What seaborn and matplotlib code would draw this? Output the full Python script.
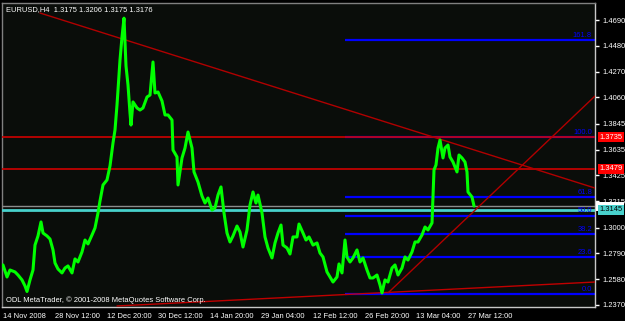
import matplotlib
matplotlib.use("Agg")
import matplotlib.pyplot as plt
import matplotlib.transforms as mtransforms
from matplotlib.patches import Rectangle
from matplotlib import font_manager as fm
import seaborn as sns
import pandas as pd

# ---------------- data ----------------
bar_x = [3, 7, 10, 15, 18, 22, 25, 27, 30, 33,
         35, 38, 41, 43, 47, 50, 53, 55, 58, 62,
         65, 68, 72, 75, 78, 82, 85, 88, 92, 95,
         98, 100, 103, 107, 110, 113, 115, 117, 118, 120,
         122, 124, 126, 128, 130, 131, 133, 137, 140, 143,
         147, 150, 153, 155, 158, 162, 165, 168, 172, 173,
         177, 178, 182, 185, 188, 192, 194, 198, 202, 205,
         208, 212, 215, 218, 221, 224, 227, 230, 233, 237,
         240, 243, 247, 250, 253, 256, 258, 262, 265, 268,
         272, 275, 278, 281, 283, 287, 290, 293, 297, 299,
         303, 306, 309, 313, 317, 320, 323, 327, 330, 333,
         337, 339, 342, 345, 347, 350, 353, 357, 360, 363,
         367, 370, 373, 377, 380, 382, 385, 388, 392, 395,
         398, 402, 405, 408, 412, 415, 418, 422, 425, 428,
         432, 434, 436, 438, 440, 443, 445, 448, 450, 453,
         457, 459, 462, 465, 467, 468, 472, 474]
close = [1.2696, 1.2598, 1.2655, 1.2639, 1.2614, 1.2574, 1.2525, 1.2480, 1.2574, 1.2655,
         1.2858, 1.2932, 1.3046, 1.2956, 1.2932, 1.2907, 1.2818, 1.2712, 1.2663, 1.2631,
         1.2671, 1.2688, 1.2631, 1.2745, 1.2720, 1.2802, 1.2899, 1.2867, 1.2940, 1.2997,
         1.3119, 1.3217, 1.3347, 1.3388, 1.3502, 1.3689, 1.3795, 1.3998, 1.4120, 1.4364,
         1.4552, 1.4705, 1.4316, 1.4161, 1.3933, 1.3835, 1.4023, 1.3974, 1.3957, 1.3974,
         1.4063, 1.4079, 1.4348, 1.4096, 1.4104, 1.4031, 1.3917, 1.3917, 1.3876, 1.3632,
         1.3575, 1.3347, 1.3567, 1.3648, 1.3778, 1.3648, 1.3453, 1.3371, 1.3257, 1.3200,
         1.3241, 1.3143, 1.3160, 1.3265, 1.3331, 1.3119, 1.2956, 1.2883, 1.2932, 1.3013,
         1.2964, 1.2842, 1.2981, 1.3184, 1.3290, 1.3200, 1.3265, 1.3119, 1.2924, 1.2834,
         1.2753, 1.2875, 1.2956, 1.3021, 1.2858, 1.2834, 1.2785, 1.2924, 1.2924, 1.3029,
         1.2956, 1.2899, 1.2924, 1.2858, 1.2875, 1.2793, 1.2761, 1.2639, 1.2598, 1.2557,
         1.2598, 1.2704, 1.2631, 1.2899, 1.2761, 1.2720, 1.2753, 1.2818, 1.2720, 1.2753,
         1.2655, 1.2590, 1.2590, 1.2614, 1.2533, 1.2468, 1.2574, 1.2557, 1.2671, 1.2696,
         1.2614, 1.2671, 1.2761, 1.2736, 1.2802, 1.2883, 1.2883, 1.2940, 1.3005, 1.2981,
         1.3038, 1.3469, 1.3510, 1.3648, 1.3713, 1.3567, 1.3648, 1.3672, 1.3575, 1.3534,
         1.3453, 1.3591, 1.3567, 1.3534, 1.3453, 1.3290, 1.3249, 1.3176]
assert len(bar_x) == len(close)

x_tick_pos = [3, 55, 107, 158, 210, 261, 313, 365, 416, 468]
x_tick_labels = ["14 Nov 2008", "28 Nov 12:00", "12 Dec 20:00", "30 Dec 12:00",
                 "14 Jan 20:00", "29 Jan 04:00", "12 Feb 12:00", "26 Feb 20:00",
                 "13 Mar 04:00", "27 Mar 12:00"]
y_tick_labels = ["1.4690", "1.4480", "1.4270", "1.4060", "1.3845", "1.3635",
                 "1.3425", "1.3215", "1.3000", "1.2790", "1.2580", "1.2370"]

# trendline anchors (bar position, price)
trend_down_x = [40, 595]
trend_down_p = [1.4747, 1.3322]
trend_low_x = [117, 595]
trend_low_p = [1.2362, 1.2557]
trend_up_x = [388, 595]
trend_up_p = [1.2468, 1.4071]

hlines_red = [1.3735, 1.3479]
bid_price = 1.3176
cyan_price = 1.3145

fib_start = 345
fib_levels = [0.0, 23.6, 38.2, 50.0, 61.8, 100.0, 161.8]
fib_low = 1.2459
fib_high = 1.3735

title_text = "EURUSD,H4  1.3175 1.3206 1.3175 1.3176"
copyright_text = "ODL MetaTrader, \u00a9 2001-2008 MetaQuotes Software Corp."

# ---------------- style ----------------
sns.set_style("dark")
names = {f.name for f in fm.fontManager.ttflist}
if "Liberation Sans Narrow" in names:
    FONT, FS = "Liberation Sans Narrow", 6.3
else:
    FONT, FS = "Liberation Sans", 5.4
plt.rcParams["font.family"] = [FONT, "DejaVu Sans"]

BG = "#0a0d0a"
W, H = 625, 321
fig = plt.figure(figsize=(W / 100, H / 100), dpi=100, facecolor="black")
ax = fig.add_axes([2 / W, 1 - 307 / H, 593 / W, 304 / H])
ax.set_facecolor(BG)

ymax = 1.4690 + 17 / 1228.4
ymin = 1.4690 - 287 / 1228.4
ax.set_xlim(2, 595)
ax.set_ylim(ymin, ymax)

# horizontal levels
for p in hlines_red:
    ax.axhline(p, color="#d00000", lw=1.2, zorder=3)
ax.axhline(bid_price, color="#8c8c8c", lw=1.0, zorder=3)
ax.axhline(cyan_price, color="#48d1cc", lw=2.0, zorder=3)

# fibonacci
rng = fib_high - fib_low
for lv in fib_levels:
    p = fib_low + rng * lv / 100.0
    ax.plot([fib_start, 595], [p, p], color="#0000ff", lw=1.6, zorder=2,
            solid_capstyle="butt")
    ax.text(592, p + 0.0010, f"{lv:.1f}", color="#0000ff", fontsize=FS,
            ha="right", va="bottom", zorder=5)

# trendlines
ax.plot(trend_down_x, trend_down_p, color="#b00000", lw=1.0, zorder=3)
ax.plot(trend_low_x, trend_low_p, color="#c00000", lw=1.0, zorder=3)
ax.plot(trend_up_x, trend_up_p, color="#b00000", lw=1.0, zorder=3)

# price
df = pd.DataFrame({"bar": bar_x, "close": close})
sns.lineplot(data=df, x="bar", y="close", ax=ax, color="#00ff00", lw=2.2,
             sort=False, zorder=4)
ax.set_xlabel("")
ax.set_ylabel("")

# axes / ticks
ax.grid(False)
for s in ["left", "top"]:
    ax.spines[s].set_color("#808080")
    ax.spines[s].set_linewidth(1)
for s in ["right", "bottom"]:
    ax.spines[s].set_color("#c8c8c8")
    ax.spines[s].set_linewidth(1)

ax.set_xticks(x_tick_pos)
ax.set_xticklabels(x_tick_labels, ha="left")
ax.yaxis.tick_right()
ax.set_yticks([float(s) for s in y_tick_labels])
ax.set_yticklabels(y_tick_labels)
ax.tick_params(axis="both", colors="#ffffff", labelsize=FS, length=3, width=1,
               direction="out")
ax.tick_params(axis="x", pad=1)
ax.tick_params(axis="y", pad=2)

# price boxes on the right scale
tr = mtransforms.blended_transform_factory(ax.transAxes, ax.transData)
xb = 1 + 4 / 593
for p in hlines_red:
    ax.text(xb, p, f"{p:.4f}", transform=tr, color="white", fontsize=FS,
            ha="left", va="center", clip_on=False, zorder=10,
            bbox=dict(boxstyle="square,pad=0.2", fc="#ff0000", ec="none"))
# bid marker box (mostly hidden behind the cyan one)
ax.add_patch(Rectangle((1 + 1 / 593, bid_price - 0.0040), 28 / 593, 0.0075,
                       transform=tr, fc="#ffffff", ec="none", clip_on=False,
                       zorder=9))
ax.text(xb, cyan_price, f"{cyan_price:.4f}", transform=tr, color="black",
        fontsize=FS, ha="left", va="center", clip_on=False, zorder=11,
        bbox=dict(boxstyle="square,pad=0.2", fc="#48d1cc", ec="none"))

# texts
ax.text(4 / 593, 1 - 3 / 304, title_text, transform=ax.transAxes, color="white",
        fontsize=FS, ha="left", va="top", zorder=10)
ax.text(4 / 593, 3 / 304, copyright_text, transform=ax.transAxes, color="white",
        fontsize=FS, ha="left", va="bottom", zorder=10)

fig.savefig("out.png", dpi=100, facecolor="black")
